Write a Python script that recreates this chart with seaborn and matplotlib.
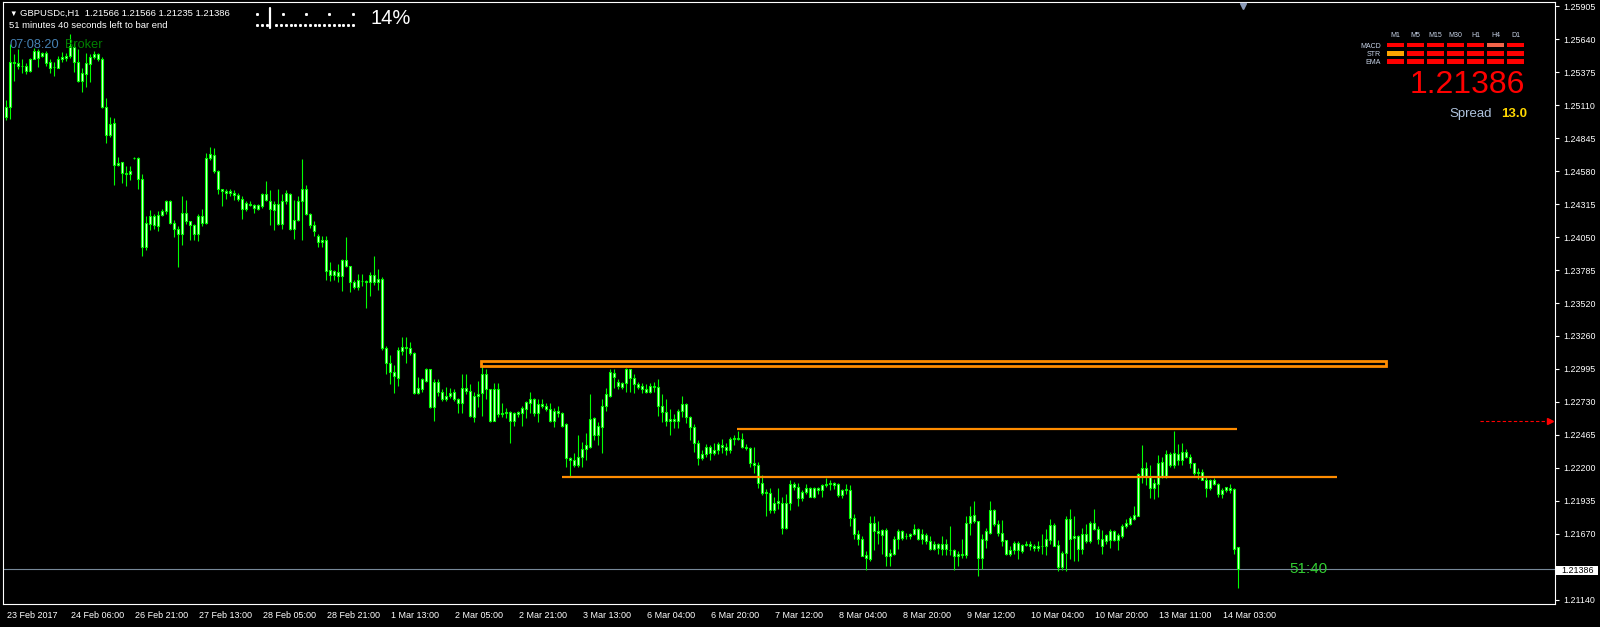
import numpy as np
import pandas as pd
import matplotlib
matplotlib.use("Agg")
import matplotlib.pyplot as plt
import matplotlib.transforms as mtransforms
from matplotlib.patches import Rectangle
from matplotlib.lines import Line2D
import seaborn as sns

# GBPUSD H1 candles, 23 Feb 2017 14:00 -> 14 Mar 2017 07:00
opens = [
    1.2502, 1.2510, 1.2546, 1.2545, 1.2543, 1.2543, 1.2539, 1.2548, 1.2555, 1.2551,
    1.2553, 1.2546, 1.2542, 1.2541, 1.2548, 1.2549, 1.2551, 1.2558, 1.2546, 1.2531,
    1.2536, 1.2544, 1.2550, 1.2552, 1.2548, 1.2510, 1.2487, 1.2497, 1.2463, 1.2466,
    1.2457, 1.2456, 1.2469, 1.2469, 1.2452, 1.2397, 1.2416, 1.2422, 1.2414, 1.2423,
    1.2426, 1.2434, 1.2417, 1.2412, 1.2408, 1.2425, 1.2418, 1.2415, 1.2408, 1.2422,
    1.2417, 1.2469, 1.2471, 1.2458, 1.2444, 1.2442, 1.2441, 1.2441, 1.2439, 1.2436,
    1.2428, 1.2432, 1.2431, 1.2428, 1.2430, 1.2440, 1.2434, 1.2427, 1.2432, 1.2416,
    1.2434, 1.2440, 1.2412, 1.2419, 1.2434, 1.2444, 1.2424, 1.2415, 1.2406, 1.2401,
    1.2403, 1.2379, 1.2375, 1.2377, 1.2374, 1.2387, 1.2382, 1.2369, 1.2365, 1.2370,
    1.2370, 1.2369, 1.2375, 1.2369, 1.2372, 1.2316, 1.2304, 1.2297, 1.2292, 1.2314,
    1.2317, 1.2316, 1.2312, 1.2280, 1.2283, 1.2290, 1.2299, 1.2269, 1.2289, 1.2281,
    1.2275, 1.2278, 1.2281, 1.2275, 1.2272, 1.2284, 1.2282, 1.2261, 1.2278, 1.2280,
    1.2295, 1.2283, 1.2258, 1.2283, 1.2263, 1.2264, 1.2265, 1.2258, 1.2263, 1.2264,
    1.2267, 1.2272, 1.2275, 1.2264, 1.2271, 1.2270, 1.2267, 1.2258, 1.2266, 1.2264,
    1.2255, 1.2228, 1.2226, 1.2222, 1.2229, 1.2235, 1.2237, 1.2260, 1.2246, 1.2253,
    1.2270, 1.2278, 1.2296, 1.2289, 1.2285, 1.2288, 1.2299, 1.2292, 1.2287, 1.2286,
    1.2283, 1.2281, 1.2286, 1.2285, 1.2270, 1.2265, 1.2258, 1.2259, 1.2258, 1.2266,
    1.2271, 1.2261, 1.2253, 1.2240, 1.2228, 1.2231, 1.2237, 1.2232, 1.2234, 1.2238,
    1.2237, 1.2234, 1.2243, 1.2244, 1.2243, 1.2237, 1.2236, 1.2224, 1.2222, 1.2208,
    1.2201, 1.2200, 1.2186, 1.2192, 1.2192, 1.2172, 1.2192, 1.2207, 1.2205, 1.2196,
    1.2201, 1.2204, 1.2197, 1.2204, 1.2202, 1.2206, 1.2207, 1.2208, 1.2207, 1.2198,
    1.2202, 1.2202, 1.2180, 1.2167, 1.2163, 1.2150, 1.2147, 1.2176, 1.2169, 1.2166,
    1.2170, 1.2149, 1.2151, 1.2163, 1.2169, 1.2165, 1.2165, 1.2167, 1.2171, 1.2163,
    1.2166, 1.2161, 1.2155, 1.2159, 1.2155, 1.2159, 1.2154, 1.2154, 1.2149, 1.2151,
    1.2150, 1.2176, 1.2182, 1.2177, 1.2148, 1.2162, 1.2168, 1.2186, 1.2175, 1.2168,
    1.2162, 1.2151, 1.2154, 1.2160, 1.2153, 1.2158, 1.2159, 1.2157, 1.2156, 1.2157,
    1.2157, 1.2162, 1.2174, 1.2158, 1.2140, 1.2152, 1.2179, 1.2164, 1.2165, 1.2155,
    1.2167, 1.2161, 1.2176, 1.2171, 1.2163, 1.2161, 1.2162, 1.2169, 1.2162, 1.2165,
    1.2173, 1.2175, 1.2179, 1.2181, 1.2213, 1.2220, 1.2213, 1.2204, 1.2207, 1.2225,
    1.2213, 1.2231, 1.2222, 1.2231, 1.2226, 1.2233, 1.2229, 1.2224, 1.2216, 1.2217,
    1.2210, 1.2204, 1.2210, 1.2207, 1.2199, 1.2202, 1.2204, 1.2203, 1.21566,
]
highs = [
    1.2515, 1.2560, 1.2552, 1.2556, 1.2548, 1.2545, 1.2549, 1.2557, 1.2556, 1.2554,
    1.2555, 1.2548, 1.2546, 1.2551, 1.2554, 1.2553, 1.2568, 1.2561, 1.2556, 1.2541,
    1.2553, 1.2552, 1.2555, 1.2553, 1.2550, 1.2517, 1.2502, 1.2501, 1.2470, 1.2466,
    1.2462, 1.2462, 1.2470, 1.2470, 1.2456, 1.2422, 1.2427, 1.2424, 1.2426, 1.2428,
    1.2435, 1.2435, 1.2419, 1.2414, 1.2438, 1.2435, 1.2418, 1.2416, 1.2424, 1.2428,
    1.2473, 1.2478, 1.2477, 1.2459, 1.2444, 1.2444, 1.2444, 1.2443, 1.2441, 1.2438,
    1.2434, 1.2434, 1.2432, 1.2432, 1.2441, 1.2450, 1.2443, 1.2434, 1.2444, 1.2440,
    1.2443, 1.2441, 1.2435, 1.2438, 1.2468, 1.2447, 1.2425, 1.2418, 1.2408, 1.2406,
    1.2406, 1.2385, 1.2379, 1.2384, 1.2388, 1.2405, 1.2382, 1.2371, 1.2376, 1.2376,
    1.2371, 1.2377, 1.2390, 1.2380, 1.2373, 1.2318, 1.2311, 1.2303, 1.2317, 1.2325,
    1.2325, 1.2321, 1.2313, 1.2293, 1.2292, 1.2300, 1.2299, 1.2291, 1.2291, 1.2283,
    1.2285, 1.2284, 1.2283, 1.2276, 1.2295, 1.2295, 1.2287, 1.2281, 1.2290, 1.2303,
    1.2299, 1.2283, 1.2288, 1.2288, 1.2272, 1.2268, 1.2266, 1.2265, 1.2266, 1.2270,
    1.2274, 1.2281, 1.2276, 1.2275, 1.2275, 1.2272, 1.2272, 1.2268, 1.2270, 1.2265,
    1.2256, 1.2229, 1.2232, 1.2246, 1.2241, 1.2248, 1.2279, 1.2261, 1.2257, 1.2275,
    1.2284, 1.2299, 1.2299, 1.2291, 1.2289, 1.2300, 1.2299, 1.2295, 1.2289, 1.2288,
    1.2287, 1.2288, 1.2289, 1.2291, 1.2279, 1.2275, 1.2267, 1.2263, 1.2267, 1.2278,
    1.2272, 1.2262, 1.2255, 1.2242, 1.2234, 1.2239, 1.2238, 1.2240, 1.2241, 1.2243,
    1.2240, 1.2245, 1.2246, 1.2250, 1.2248, 1.2239, 1.2237, 1.2237, 1.2225, 1.2214,
    1.2203, 1.2204, 1.2197, 1.2204, 1.2197, 1.2199, 1.2210, 1.2209, 1.2208, 1.2202,
    1.2207, 1.2205, 1.2205, 1.2205, 1.2207, 1.2212, 1.2210, 1.2209, 1.2208, 1.2203,
    1.2207, 1.2206, 1.2183, 1.2170, 1.2165, 1.2153, 1.2181, 1.2181, 1.2177, 1.2171,
    1.2172, 1.2155, 1.2165, 1.2171, 1.2170, 1.2168, 1.2168, 1.2175, 1.2172, 1.2171,
    1.2168, 1.2165, 1.2161, 1.2160, 1.2165, 1.2163, 1.2173, 1.2155, 1.2153, 1.2163,
    1.2181, 1.2189, 1.2193, 1.2177, 1.2167, 1.2172, 1.2193, 1.2187, 1.2178, 1.2178,
    1.2162, 1.2157, 1.2161, 1.2161, 1.2159, 1.2161, 1.2161, 1.2159, 1.2161, 1.2167,
    1.2171, 1.2179, 1.2176, 1.2162, 1.2153, 1.2181, 1.2187, 1.2181, 1.2166, 1.2172,
    1.2175, 1.2177, 1.2187, 1.2173, 1.2170, 1.2167, 1.2171, 1.2170, 1.2168, 1.2175,
    1.2179, 1.2181, 1.2189, 1.2216, 1.2238, 1.2225, 1.2222, 1.2211, 1.2230, 1.2229,
    1.2234, 1.2233, 1.2250, 1.2239, 1.2240, 1.2235, 1.2231, 1.2224, 1.2220, 1.2219,
    1.2213, 1.2211, 1.2212, 1.2208, 1.2204, 1.2205, 1.2207, 1.2204, 1.21566,
]
lows = [
    1.2499, 1.2500, 1.2531, 1.2540, 1.2537, 1.2536, 1.2538, 1.2548, 1.2542, 1.2550,
    1.2543, 1.2537, 1.2535, 1.2541, 1.2546, 1.2547, 1.2549, 1.2538, 1.2530, 1.2522,
    1.2526, 1.2530, 1.2548, 1.2547, 1.2509, 1.2481, 1.2486, 1.2447, 1.2462, 1.2449,
    1.2446, 1.2451, 1.2468, 1.2444, 1.2390, 1.2395, 1.2411, 1.2412, 1.2410, 1.2422,
    1.2424, 1.2416, 1.2405, 1.2381, 1.2399, 1.2416, 1.2403, 1.2403, 1.2402, 1.2414,
    1.2416, 1.2467, 1.2457, 1.2440, 1.2430, 1.2436, 1.2438, 1.2435, 1.2434, 1.2420,
    1.2426, 1.2430, 1.2425, 1.2427, 1.2429, 1.2434, 1.2415, 1.2411, 1.2415, 1.2412,
    1.2432, 1.2411, 1.2404, 1.2418, 1.2403, 1.2423, 1.2413, 1.2406, 1.2397, 1.2397,
    1.2371, 1.2370, 1.2371, 1.2369, 1.2362, 1.2381, 1.2361, 1.2364, 1.2363, 1.2366,
    1.2348, 1.2358, 1.2367, 1.2363, 1.2315, 1.2295, 1.2287, 1.2280, 1.2286, 1.2311,
    1.2304, 1.2311, 1.2279, 1.2279, 1.2281, 1.2289, 1.2268, 1.2258, 1.2278, 1.2274,
    1.2274, 1.2276, 1.2274, 1.2264, 1.2264, 1.2279, 1.2261, 1.2257, 1.2269, 1.2262,
    1.2275, 1.2257, 1.2258, 1.2261, 1.2261, 1.2260, 1.2240, 1.2254, 1.2261, 1.2254,
    1.2260, 1.2264, 1.2262, 1.2257, 1.2268, 1.2266, 1.2257, 1.2253, 1.2261, 1.2253,
    1.2221, 1.2213, 1.2221, 1.2221, 1.2221, 1.2226, 1.2236, 1.2242, 1.2238, 1.2232,
    1.2266, 1.2277, 1.2284, 1.2283, 1.2283, 1.2281, 1.2281, 1.2280, 1.2283, 1.2280,
    1.2280, 1.2280, 1.2281, 1.2262, 1.2257, 1.2254, 1.2246, 1.2252, 1.2252, 1.2261,
    1.2256, 1.2242, 1.2233, 1.2222, 1.2226, 1.2229, 1.2226, 1.2230, 1.2231, 1.2232,
    1.2230, 1.2232, 1.2238, 1.2242, 1.2236, 1.2234, 1.2221, 1.2216, 1.2204, 1.2198,
    1.2181, 1.2184, 1.2184, 1.2187, 1.2167, 1.2171, 1.2186, 1.2202, 1.2189, 1.2193,
    1.2199, 1.2197, 1.2196, 1.2199, 1.2197, 1.2205, 1.2202, 1.2203, 1.2197, 1.2196,
    1.2199, 1.2173, 1.2163, 1.2158, 1.2149, 1.2138, 1.2145, 1.2154, 1.2159, 1.2151,
    1.2141, 1.2141, 1.2150, 1.2155, 1.2162, 1.2163, 1.2163, 1.2166, 1.2162, 1.2159,
    1.2159, 1.2154, 1.2154, 1.2151, 1.2150, 1.2150, 1.2150, 1.2138, 1.2141, 1.2148,
    1.2148, 1.2166, 1.2176, 1.2133, 1.2139, 1.2156, 1.2167, 1.2173, 1.2165, 1.2157,
    1.2150, 1.2149, 1.2151, 1.2147, 1.2152, 1.2157, 1.2154, 1.2153, 1.2153, 1.2151,
    1.2150, 1.2159, 1.2157, 1.2137, 1.2138, 1.2137, 1.2147, 1.2145, 1.2145, 1.2151,
    1.2160, 1.2160, 1.2170, 1.2159, 1.2151, 1.2159, 1.2156, 1.2161, 1.2154, 1.2164,
    1.2172, 1.2174, 1.2178, 1.2181, 1.2208, 1.2206, 1.2196, 1.2195, 1.2197, 1.2212,
    1.2212, 1.2221, 1.2220, 1.2222, 1.2222, 1.2228, 1.2220, 1.2214, 1.2211, 1.2210,
    1.2197, 1.2202, 1.2206, 1.2197, 1.2196, 1.2201, 1.2200, 1.2151, 1.21235,
]
closes = [
    1.2510, 1.2546, 1.2545, 1.2543, 1.2543, 1.2539, 1.2548, 1.2555, 1.2549, 1.2553,
    1.2545, 1.2541, 1.2542, 1.2548, 1.2550, 1.2551, 1.2559, 1.2546, 1.2531, 1.2537,
    1.2545, 1.2550, 1.2552, 1.2548, 1.2510, 1.2487, 1.2496, 1.2463, 1.2465, 1.2457,
    1.2456, 1.2458, 1.2469, 1.2452, 1.2397, 1.2417, 1.2422, 1.2415, 1.2423, 1.2426,
    1.2434, 1.2417, 1.2412, 1.2408, 1.2425, 1.2418, 1.2415, 1.2408, 1.2422, 1.2417,
    1.2469, 1.2472, 1.2458, 1.2444, 1.2442, 1.2441, 1.2442, 1.2439, 1.2436, 1.2428,
    1.2433, 1.2431, 1.2429, 1.2431, 1.2440, 1.2435, 1.2428, 1.2432, 1.2416, 1.2434,
    1.2441, 1.2412, 1.2419, 1.2434, 1.2444, 1.2424, 1.2415, 1.2410, 1.2401, 1.2403,
    1.2378, 1.2375, 1.2378, 1.2374, 1.2387, 1.2382, 1.2369, 1.2365, 1.2371, 1.2370,
    1.2369, 1.2375, 1.2369, 1.2372, 1.2316, 1.2304, 1.2297, 1.2294, 1.2315, 1.2317,
    1.2316, 1.2312, 1.2280, 1.2284, 1.2291, 1.2299, 1.2269, 1.2289, 1.2281, 1.2275,
    1.2278, 1.2280, 1.2275, 1.2272, 1.2284, 1.2282, 1.2262, 1.2278, 1.2279, 1.2295,
    1.2283, 1.2258, 1.2283, 1.2263, 1.2264, 1.2265, 1.2258, 1.2264, 1.2265, 1.2268,
    1.2273, 1.2275, 1.2264, 1.2271, 1.2270, 1.2267, 1.2258, 1.2266, 1.2264, 1.2254,
    1.2228, 1.2226, 1.2222, 1.2229, 1.2235, 1.2238, 1.2259, 1.2246, 1.2254, 1.2270,
    1.2279, 1.2297, 1.2293, 1.2286, 1.2288, 1.2299, 1.2292, 1.2287, 1.2285, 1.2283,
    1.2281, 1.2286, 1.2285, 1.2270, 1.2265, 1.2258, 1.2259, 1.2258, 1.2266, 1.2271,
    1.2261, 1.2253, 1.2240, 1.2228, 1.2231, 1.2237, 1.2232, 1.2234, 1.2239, 1.2237,
    1.2234, 1.2243, 1.2244, 1.2243, 1.2237, 1.2236, 1.2224, 1.2222, 1.2208, 1.2200,
    1.2200, 1.2186, 1.2192, 1.2193, 1.2172, 1.2192, 1.2207, 1.2205, 1.2196, 1.2201,
    1.2204, 1.2197, 1.2204, 1.2202, 1.2206, 1.2207, 1.2208, 1.2206, 1.2198, 1.2202,
    1.2203, 1.2180, 1.2167, 1.2163, 1.2149, 1.2148, 1.2176, 1.2169, 1.2168, 1.2170,
    1.2149, 1.2152, 1.2163, 1.2169, 1.2164, 1.2165, 1.2167, 1.2171, 1.2163, 1.2167,
    1.2161, 1.2155, 1.2159, 1.2156, 1.2159, 1.2155, 1.2154, 1.2149, 1.2151, 1.2150,
    1.2176, 1.2181, 1.2177, 1.2148, 1.2163, 1.2169, 1.2186, 1.2175, 1.2168, 1.2161,
    1.2151, 1.2154, 1.2160, 1.2154, 1.2158, 1.2159, 1.2157, 1.2156, 1.2157, 1.2157,
    1.2163, 1.2174, 1.2157, 1.2140, 1.2152, 1.2179, 1.2163, 1.2165, 1.2155, 1.2167,
    1.2161, 1.2176, 1.2171, 1.2163, 1.2157, 1.2166, 1.2169, 1.2162, 1.2166, 1.2173,
    1.2176, 1.2180, 1.2182, 1.2215, 1.2220, 1.2213, 1.2204, 1.2208, 1.2224, 1.2213,
    1.2231, 1.2222, 1.2232, 1.2226, 1.2233, 1.2229, 1.2224, 1.2216, 1.2217, 1.2210,
    1.2204, 1.2210, 1.2207, 1.2199, 1.2202, 1.2205, 1.2202, 1.2155, 1.21386,
]

time_labels = ["23 Feb 2017", "24 Feb 06:00", "26 Feb 21:00", "27 Feb 13:00", "28 Feb 05:00",
               "28 Feb 21:00", "1 Mar 13:00", "2 Mar 05:00", "2 Mar 21:00", "3 Mar 13:00",
               "6 Mar 04:00", "6 Mar 20:00", "7 Mar 12:00", "8 Mar 04:00", "8 Mar 20:00",
               "9 Mar 12:00", "10 Mar 04:00", "10 Mar 20:00", "13 Mar 11:00", "14 Mar 03:00"]
time_label_bars = list(range(0, 305, 16))

price_ticks = [1.25905, 1.25640, 1.25375, 1.25110, 1.24845, 1.24580, 1.24315, 1.24050,
               1.23785, 1.23520, 1.23260, 1.22995, 1.22730, 1.22465, 1.22200, 1.21935,
               1.21670, 1.21140]

# drawn objects: resistance box, two horizontal lines, alert arrow, bid
zone_low, zone_high = 1.23015, 1.23055
zone_bars = (118.7, 345.0)
upper_level, upper_bars = 1.2251, (182.9, 307.8)
lower_level, lower_bars = 1.2213, (139.1, 332.7)
alert_level, alert_bars = 1.2258, (368.6, 386.0)
bid = 1.21386

# signal panel
panel_cols = ["M1", "M5", "M15", "M30", "H1", "H4", "D1"]
panel_rows = ["MACD", "STR", "EMA"]
panel_colors = [["#ff0000"] * 5 + ["#f4644a", "#ff0000"],
                ["#ffa500"] + ["#ff0000"] * 6,
                ["#ff0000"] * 7]

df = pd.DataFrame({"open": opens, "high": highs, "low": lows, "close": closes})
df["bar"] = np.arange(len(df))

GREEN = "#00ff00"
ORANGE = "#ff8c00"

sns.set_theme(style="dark", rc={
    "figure.facecolor": "black", "axes.facecolor": "black",
    "axes.edgecolor": "white", "axes.linewidth": 0.8,
    "xtick.color": "white", "ytick.color": "white", "text.color": "white",
    "axes.grid": False,
})
plt.rcParams["font.family"] = ["Liberation Sans", "DejaVu Sans"]

W, H = 1600, 627
fig = plt.figure(figsize=(16, 6.27), dpi=100)
ax = fig.add_axes([3 / W, (H - 604) / H, 1552 / W, 602 / H])


def fpos(x, y):
    # pixel position (from top-left) -> figure fraction
    return x / W, 1 - y / H


# candles
ax.vlines(df["bar"], df["low"], df["high"], color=GREEN, lw=0.8, zorder=3)
body_lo = np.minimum(df["open"], df["close"])
body_h = (df["close"] - df["open"]).abs()
ax.bar(df["bar"], body_h, bottom=body_lo, width=0.55, color="#eaffea",
       edgecolor=GREEN, linewidth=0.8, zorder=4)

# levels
ax.add_patch(Rectangle((zone_bars[0], zone_low), zone_bars[1] - zone_bars[0],
                       zone_high - zone_low, fill=False, edgecolor=ORANGE, lw=2.0, zorder=5))
ax.hlines(upper_level, *upper_bars, color=ORANGE, lw=1.6, zorder=5)
ax.hlines(lower_level, *lower_bars, color=ORANGE, lw=1.6, zorder=5)
ax.axhline(bid, color="#778899", lw=0.8, zorder=2)
ax.hlines(alert_level, alert_bars[0], alert_bars[1] - 1, color="#ff0000", lw=0.8,
          linestyles=(0, (3, 2)), zorder=5)
ax.plot([alert_bars[1]], [alert_level], marker=">", color="#ff0000", ms=4, zorder=5)
ax.text(320.8, bid, "51:40", color="#32cd32", fontsize=11, va="center", ha="left", zorder=6)

ax.set_xlim(-0.675, 387.325)
ax.set_ylim(1.211069, 1.259409)

# time axis
ax.set_xticks(time_label_bars)
ax.set_xticklabels(time_labels, ha="left", fontsize=6.5)
ax.tick_params(axis="x", direction="out", length=3, width=0.8, colors="white", pad=2)
shift = mtransforms.ScaledTranslation(1.5 / 100, 0, fig.dpi_scale_trans)
for lbl in ax.get_xticklabels():
    lbl.set_transform(lbl.get_transform() + shift)

# price axis
ax.yaxis.tick_right()
ax.set_yticks(price_ticks)
ax.set_yticklabels([f"{p:.5f}" for p in price_ticks], fontsize=6.4)
ax.tick_params(axis="y", direction="out", length=3, width=0.8, colors="white", pad=3)
for sp in ax.spines.values():
    sp.set_color("white")
    sp.set_linewidth(0.8)

# bid label on the price axis
fig.patches.append(Rectangle(fpos(1556, 575), 42 / W, 9.5 / H, transform=fig.transFigure,
                             facecolor="white", edgecolor="none"))
fig.text(*fpos(1561.5, 570.5), f"{bid:.5f}", color="black", fontsize=6.4, va="center")

# header texts
fig.text(*fpos(9, 16), "\u25bc", fontsize=5.5, color="white", va="baseline")
fig.text(*fpos(20, 16), "GBPUSDc,H1  1.21566 1.21566 1.21235 1.21386",
         fontsize=6.8, color="white", va="baseline")
fig.text(*fpos(9, 28), "51 minutes 40 seconds left to bar end",
         fontsize=6.8, color="white", va="baseline")
fig.text(*fpos(10, 48), "07:08:20", fontsize=9.2, color="#4682b4", va="baseline")
fig.text(*fpos(65, 48), "Broker", fontsize=9.2, color="#008000", va="baseline")
fig.text(*fpos(371, 24), "14%", fontsize=14.5, color="white", va="baseline")

# bar-progress dots
for k in range(21):
    px = 257 + 4.8 * k
    if abs(px - 270) < 2:
        continue
    fig.add_artist(Line2D([px / W], [1 - 25 / H], marker="s", ms=1.1, color="white",
                          transform=fig.transFigure))
for px in [257, 282.7, 306, 329.3, 353.3]:
    fig.add_artist(Line2D([px / W], [1 - 13.5 / H], marker="s", ms=1.1, color="white",
                          transform=fig.transFigure))
fig.add_artist(Line2D([270 / W, 270 / W], [1 - 7.5 / H, 1 - 28 / H], color="white", lw=1.6,
                      transform=fig.transFigure))

# chart shift marker
fig.add_artist(Line2D([1243 / W], [1 - 6 / H], marker="v", ms=5, color="#8b9bb8",
                      transform=fig.transFigure))

# signal panel
for c, name in enumerate(panel_cols):
    cx = 1387.3 + 20 * c
    fig.text(*fpos(cx + 8.3, 37.3), name, fontsize=5, color="#c8d4e8", ha="center",
             va="baseline")
    for r in range(len(panel_rows)):
        y0 = 42.7 + 8.2 * r
        fig.patches.append(Rectangle(fpos(cx, y0 + 4.7), 16.7 / W, 4.7 / H,
                                     transform=fig.transFigure,
                                     facecolor=panel_colors[r][c], edgecolor="none"))
for r, name in enumerate(panel_rows):
    fig.text(*fpos(1381, 47.5 + 8.2 * r), name, fontsize=5, color="#c8d4e8", ha="right",
             va="baseline")

fig.text(*fpos(1525, 93), f"{bid:.5f}", fontsize=23, color="#ff0000", ha="right",
         va="baseline")
fig.text(*fpos(1449, 117), "Spread", fontsize=9.5, color="#b0c4de", va="baseline")
fig.text(*fpos(1501, 117), "13.0", fontsize=9.5, color="#ffd700", fontweight="bold",
         va="baseline")

fig.savefig("out.png", dpi=100, facecolor="black")
